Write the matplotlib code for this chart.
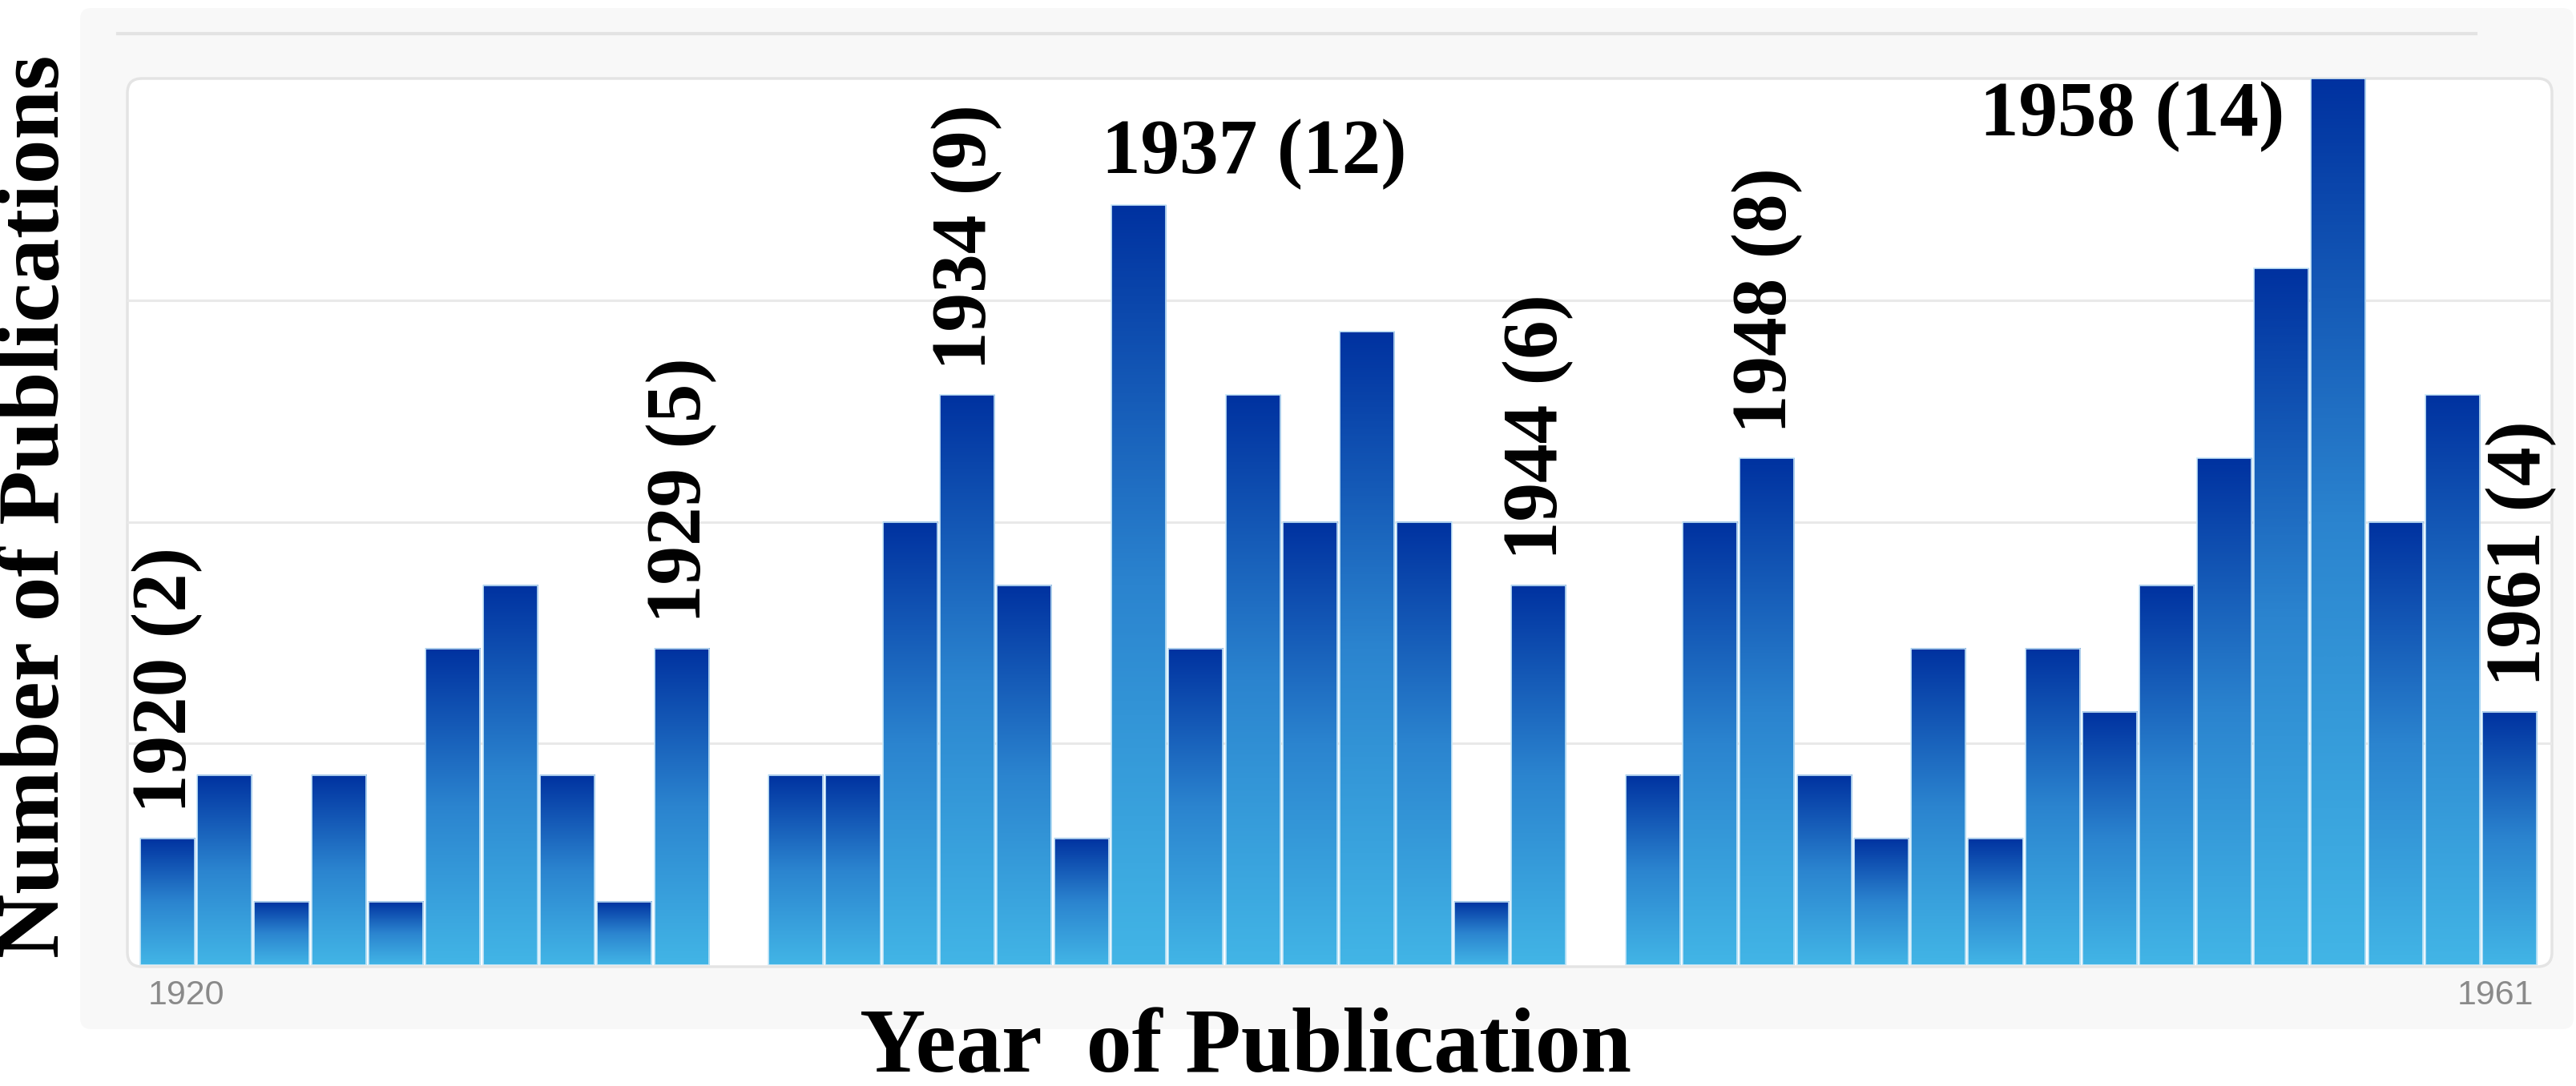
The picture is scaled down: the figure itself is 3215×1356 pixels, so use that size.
import numpy as np
import matplotlib
matplotlib.use("Agg")
import matplotlib.pyplot as plt
from matplotlib.patches import FancyBboxPatch, Rectangle
from matplotlib.colors import LinearSegmentedColormap
from matplotlib.transforms import IdentityTransform
from matplotlib.lines import Line2D

# ---------------- data ----------------
years = list(range(1920, 1962))
counts = [2, 3, 1, 3, 1, 5, 6, 3, 1, 5,
          0, 3, 3, 7, 9, 6, 2, 12, 5, 9,
          7, 10, 7, 1, 6, 0, 3, 7, 8, 3,
          2, 5, 2, 5, 4, 6, 8, 11, 14, 7,
          9, 4]
vertical_label_years = [1920, 1929, 1934, 1944, 1948, 1961]
horizontal_label_years = [1937, 1958]
end_tick_labels = ["1920", "1961"]
y_label = "Number of Publications"
x_label = "Year  of Publication"

W, H = 3216, 1356
DPI = 100
fig = plt.figure(figsize=(W / DPI, H / DPI), dpi=DPI)
fig.patch.set_facecolor("white")

def fx(x):
    return x / W

def fy(y):
    return 1 - y / H

# outer light-grey panel (pixel coords, origin bottom-left)
outer = FancyBboxPatch((100, H - 1285), 3212 - 100, 1285 - 10,
                       boxstyle="round,pad=0,rounding_size=14",
                       transform=IdentityTransform(), facecolor="#f8f8f8",
                       edgecolor="none", zorder=-3)
fig.patches.append(outer)

# top separator line
fig.lines.append(Line2D([fx(147), fx(3090)], [fy(42), fy(42)],
                        transform=fig.transFigure, color="#e3e3e3", lw=3, zorder=-2))

# white inner panel
inner = FancyBboxPatch((159, H - 1207), 3185 - 159, 1207 - 98,
                       boxstyle="round,pad=0,rounding_size=18",
                       transform=IdentityTransform(), facecolor="white",
                       edgecolor="#e4e4e4", lw=2.5, zorder=-1)
fig.patches.append(inner)

ax = fig.add_axes([fx(159), fy(1205), fx(3185) - fx(159), (1205 - 98) / H])
ax.set_facecolor("none")
ax.set_zorder(1)
for s in ax.spines.values():
    s.set_visible(False)

ax.set_yticks([3.5, 7, 10.5])
ax.yaxis.grid(True, color="#e9e9e9", lw=2.2, zorder=0)
ax.tick_params(left=False, bottom=False, labelleft=False, labelbottom=False)
ax.set_axisbelow(True)

cmap = LinearSegmentedColormap.from_list(
    "blues", [(0.0, "#42b5e6"), (0.5, "#2b84cf"), (1.0, "#0032a0")])
grad = np.linspace(0, 1, 256).reshape(-1, 1)

bw = 0.955
bars = ax.bar(years, counts, width=bw, color="none", edgecolor="none", zorder=2)
for b, c in zip(bars, counts):
    if c <= 0:
        continue
    x0 = b.get_x()
    ax.imshow(grad, extent=[x0, x0 + bw, 0, c], origin="lower", aspect="auto",
              cmap=cmap, zorder=2, interpolation="bilinear")
    ax.add_patch(Rectangle((x0, 0), bw, c, facecolor="none",
                           edgecolor="#c9e8f8", lw=1.2, zorder=3))

ax.set_xlim(1919.30, 1961.74)
ax.set_ylim(0, 14)

serif = ["Liberation Serif", "DejaVu Serif"]
lookup = dict(zip(years, counts))

for yr in vertical_label_years:
    c = lookup[yr]
    dx = 0.2 if yr == 1961 else 0.0
    ax.text(yr + dx, c + 0.4, f"{yr} ({c})", rotation=90, ha="center", va="bottom",
            fontsize=70, fontweight="bold", family=serif, color="black", zorder=5,
            clip_on=False)

# horizontal labels
c37 = lookup[1937]
ax.text(1937 - 0.65, c37 + 0.5, f"1937 ({c37})", ha="left", va="baseline",
        fontsize=70, fontweight="bold", family=serif, color="black", zorder=5,
        clip_on=False)
c58 = lookup[1958]
ax.text(1958 - 0.94, c58 - 0.9, f"1958 ({c58})", ha="right", va="baseline",
        fontsize=70, fontweight="bold", family=serif, color="black", zorder=5,
        clip_on=False)

# grey end tick labels
sans = ["Liberation Sans", "DejaVu Sans"]
ax.text(years[0] - 0.34, -0.48, end_tick_labels[0], ha="left", va="center",
        fontsize=31, family=sans, color="#8a8a8a", clip_on=False)
ax.text(years[-1] + 0.42, -0.48, end_tick_labels[1], ha="right", va="center",
        fontsize=31, family=sans, color="#8a8a8a", clip_on=False)

# axis titles
fig.text(fx(46), fy(632), y_label, rotation=90, ha="center", va="center",
         fontsize=80, fontweight="bold", family=serif, color="black")
fig.text(fx(1555), fy(1338), x_label, ha="center", va="baseline",
         fontsize=82, fontweight="bold", family=serif, color="black")

fig.savefig("out.png", dpi=DPI, facecolor="white")
